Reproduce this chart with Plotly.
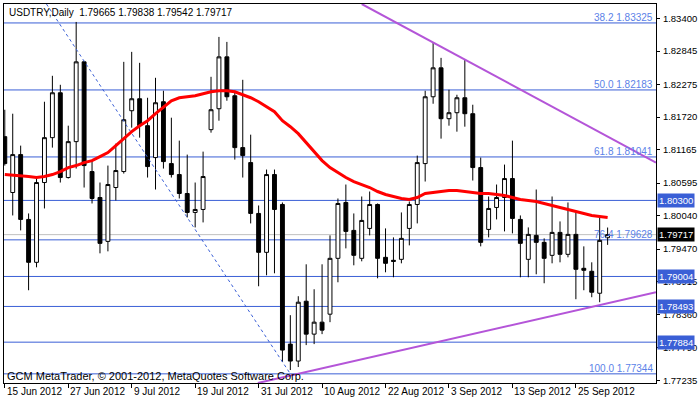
import plotly.graph_objects as go

# ---------------- data ----------------
bar_index = list(range(77))

opens = [1.81387, 1.80435, 1.81081, 1.79976, 1.79245, 1.80605, 1.81370, 1.82135, 1.80690, 1.81302,
         1.82662, 1.80792, 1.80350, 1.79602, 1.80520, 1.80792, 1.81829, 1.82033, 1.81574, 1.81030,
         1.81982, 1.80928, 1.80741, 1.80418, 1.80095, 1.80146, 1.81506, 1.81863, 1.82747, 1.82084,
         1.81200, 1.80945, 1.80078, 1.79415, 1.80741, 1.80231, 1.77851, 1.77562, 1.78582, 1.78021,
         1.78225, 1.78361, 1.79313, 1.80265, 1.79789, 1.79313, 1.79823, 1.80231, 1.79330, 1.79279,
         1.79296, 1.79823, 1.80231, 1.80928, 1.82067, 1.82560, 1.81693, 1.81795, 1.82050, 1.81778,
         1.80860, 1.79806, 1.80180, 1.80350, 1.80673, 1.79976, 1.79296, 1.79704, 1.79585, 1.79364,
         1.79755, 1.79381, 1.79721, 1.79143, 1.79092, 1.78718, 1.79665]
highs = [1.81846, 1.81778, 1.81234, 1.80078, 1.80690, 1.81982, 1.82424, 1.82271, 1.81574, 1.83342,
         1.82679, 1.80979, 1.80605, 1.80894, 1.81268, 1.82662, 1.82832, 1.82645, 1.82050, 1.82390,
         1.82169, 1.81710, 1.81319, 1.81081, 1.80605, 1.81132, 1.82407, 1.83087, 1.83002, 1.82169,
         1.82356, 1.81421, 1.80214, 1.80826, 1.80826, 1.80265, 1.78344, 1.78667, 1.79211, 1.78786,
         1.79211, 1.79704, 1.80333, 1.80571, 1.80078, 1.80367, 1.80452, 1.80248, 1.79823, 1.79670,
         1.80095, 1.80282, 1.81064, 1.82169, 1.82985, 1.82730, 1.82186, 1.82101, 1.82696, 1.81931,
         1.81030, 1.80367, 1.80571, 1.80911, 1.81319, 1.80044, 1.79840, 1.80486, 1.79653, 1.80367,
         1.79942, 1.80265, 1.80095, 1.79517, 1.79245, 1.80027, 1.79838]
lows = [1.80894, 1.80044, 1.79789, 1.78769, 1.79160, 1.80163, 1.81200, 1.80605, 1.80673, 1.80843,
        1.80520, 1.80248, 1.79398, 1.79432, 1.80299, 1.80758, 1.81540, 1.81370, 1.80690, 1.80486,
        1.80843, 1.80690, 1.80333, 1.80010, 1.79840, 1.79925, 1.81455, 1.81659, 1.81999, 1.80996,
        1.80690, 1.79908, 1.78837, 1.79024, 1.79058, 1.77545, 1.77409, 1.77460, 1.77834, 1.77851,
        1.78021, 1.78225, 1.78905, 1.79483, 1.79194, 1.79262, 1.79704, 1.78973, 1.79075, 1.78990,
        1.79228, 1.79534, 1.79908, 1.80622, 1.81948, 1.81353, 1.81574, 1.81472, 1.81557, 1.80639,
        1.79517, 1.79670, 1.79976, 1.79772, 1.79738, 1.78990, 1.78990, 1.79041, 1.78888, 1.79228,
        1.79245, 1.79330, 1.78616, 1.78769, 1.78650, 1.78565, 1.79542]
closes = [1.80928, 1.81081, 1.79976, 1.79245, 1.80605, 1.81370, 1.82135, 1.80690, 1.81302, 1.82662,
          1.80894, 1.80333, 1.79568, 1.80571, 1.80809, 1.81676, 1.82033, 1.81574, 1.80877, 1.81965,
          1.80962, 1.80741, 1.80418, 1.80095, 1.80146, 1.80707, 1.81846, 1.82747, 1.82067, 1.81200,
          1.81064, 1.80078, 1.79415, 1.80741, 1.80146, 1.77749, 1.77562, 1.78565, 1.78021, 1.78225,
          1.78089, 1.79313, 1.80248, 1.79772, 1.79364, 1.79959, 1.80231, 1.79313, 1.79228, 1.79262,
          1.79653, 1.80231, 1.80945, 1.82067, 1.82560, 1.81693, 1.81795, 1.82050, 1.81778, 1.80860,
          1.79585, 1.80163, 1.80350, 1.80673, 1.79993, 1.79568, 1.79721, 1.79585, 1.79313, 1.79755,
          1.79381, 1.79721, 1.79126, 1.79109, 1.78735, 1.79619, 1.79717]

moving_avg = [1.80741, 1.80733, 1.80724, 1.80707, 1.80690, 1.80707, 1.80741, 1.80792, 1.80860, 1.80894,
              1.80945, 1.80979, 1.81047, 1.81115, 1.81234, 1.81353, 1.81472, 1.81574, 1.81659, 1.81778,
              1.81897, 1.81999, 1.82050, 1.82067, 1.82084, 1.82118, 1.82152, 1.82169, 1.82169, 1.82152,
              1.82101, 1.82050, 1.81982, 1.81897, 1.81812, 1.81659, 1.81557, 1.81438, 1.81285, 1.81149,
              1.80979, 1.80860, 1.80775, 1.80690, 1.80622, 1.80571, 1.80520, 1.80452, 1.80401, 1.80367,
              1.80333, 1.80316, 1.80350, 1.80418, 1.80435, 1.80452, 1.80469, 1.80469, 1.80452, 1.80435,
              1.80418, 1.80418, 1.80401, 1.80384, 1.80350, 1.80316, 1.80299, 1.80282, 1.80248, 1.80214,
              1.80180, 1.80146, 1.80112, 1.80078, 1.80044, 1.80027, 1.80010]

fib_levels = [1.83325, 1.82183, 1.81041, 1.79628, 1.77344]
fib_labels = ["38.2 1.83325", "50.0 1.82183", "61.8 1.81041", "76.4 1.79628", "100.0 1.77344"]
sr_levels = [1.80300, 1.79004, 1.78493, 1.77884]
last_price = 1.79717

upper_trend_x = [45.0, 82.1]
upper_trend_y = [1.83648, 1.80945]
lower_trend_x = [31.9, 82.1]
lower_trend_y = [1.77188, 1.78735]
fib_diag_x = [5.25, 36.0]
fib_diag_y = [1.83648, 1.77344]

date_ticks = [0, 8, 16, 24, 32, 40, 48, 56, 64, 72]
date_labels = ["15 Jun 2012", "27 Jun 2012", "9 Jul 2012", "19 Jul 2012", "31 Jul 2012",
               "10 Aug 2012", "22 Aug 2012", "3 Sep 2012", "13 Sep 2012", "25 Sep 2012"]
price_ticks = [1.83400, 1.82845, 1.82275, 1.81720, 1.81165, 1.80595, 1.80040, 1.79470,
               1.78915, 1.78360, 1.77790, 1.77235]

FONT = "Liberation Sans"
LEVEL_BLUE = "#3a5fd6"
AX_SIZE = 9.5

fig = go.Figure()

# horizontal levels
for lv in fib_levels + sr_levels:
    fig.add_hline(y=lv, line=dict(color=LEVEL_BLUE, width=1), layer="below")
fig.add_hline(y=last_price, line=dict(color="#c0c0c0", width=1), layer="below")

fig.add_trace(go.Scatter(x=fib_diag_x, y=fib_diag_y, mode="lines",
                         line=dict(color=LEVEL_BLUE, width=1, dash="dot"), hoverinfo="skip"))

fig.add_trace(go.Candlestick(
    x=bar_index, open=opens, high=highs, low=lows, close=closes,
    increasing=dict(fillcolor="white", line=dict(color="black", width=1)),
    decreasing=dict(fillcolor="black", line=dict(color="black", width=1)),
    whiskerwidth=0,
))

fig.add_trace(go.Scatter(x=bar_index, y=moving_avg, mode="lines",
                         line=dict(color="#ff0000", width=3), hoverinfo="skip"))

for tx, ty in [(upper_trend_x, upper_trend_y), (lower_trend_x, lower_trend_y)]:
    fig.add_trace(go.Scatter(x=tx, y=ty, mode="lines",
                             line=dict(color="#b455d8", width=2), hoverinfo="skip"))

# fib labels
for lv, txt in zip(fib_levels, fib_labels):
    fig.add_annotation(x=1, xref="paper", y=lv, yref="y", text=txt, showarrow=False,
                       xanchor="right", yanchor="bottom", xshift=-1, yshift=-2,
                       font=dict(family=FONT, size=10, color="#5b82e8"))

# price boxes on axis
for lv in sr_levels:
    fig.add_annotation(x=1, xref="paper", y=lv, yref="y", text="%.5f" % lv, showarrow=False,
                       xanchor="left", xshift=1, bgcolor=LEVEL_BLUE,
                       font=dict(family=FONT, size=AX_SIZE, color="white"), borderpad=1)
fig.add_annotation(x=1, xref="paper", y=last_price, yref="y", text="%.5f" % last_price,
                   showarrow=False, xanchor="left", xshift=1, bgcolor="black",
                   font=dict(family=FONT, size=AX_SIZE, color="white"), borderpad=1)

# date labels (left-aligned at tick like MetaTrader)
for t, lab in zip(date_ticks, date_labels):
    fig.add_annotation(x=t, xref="x", y=0, yref="paper", text=lab, showarrow=False,
                       xanchor="left", yanchor="top", yshift=-1, xshift=0,
                       font=dict(family=FONT, size=10, color="black"))

fig.add_annotation(x=0, xref="paper", y=1, yref="paper", text="USDTRY,Daily  1.79665 1.79838 1.79542 1.79717",
                   showarrow=False, xanchor="left", yanchor="top", xshift=3, yshift=-1,
                   font=dict(family=FONT, size=10, color="black"))
fig.add_annotation(x=0, xref="paper", y=0, yref="paper",
                   text="GCM MetaTrader, © 2001-2012, MetaQuotes Software Corp.",
                   showarrow=False, xanchor="left", yanchor="bottom", xshift=1, yshift=-1,
                   font=dict(family=FONT, size=11, color="black"))

fig.update_layout(
    width=700, height=402,
    margin=dict(l=3, r=40, t=3, b=19),
    paper_bgcolor="white", plot_bgcolor="white",
    showlegend=False,
    font=dict(family=FONT, size=10, color="black"),
)
fig.update_xaxes(range=[-0.1, 82.1], tickvals=date_ticks, ticktext=[""] * len(date_ticks),
                 ticks="outside", ticklen=4, tickcolor="black", showgrid=False, zeroline=False,
                 showline=True, linecolor="black", mirror=True, rangeslider_visible=False)
fig.update_yaxes(range=[1.77188, 1.83648], side="right", tickvals=price_ticks,
                 ticktext=["%.5f" % p for p in price_ticks], ticks="outside", ticklen=3,
                 tickcolor="black", showgrid=False, zeroline=False, ticklabelstandoff=1,
                 showline=True, linecolor="black", mirror=True, tickfont=dict(size=AX_SIZE))

fig.write_html("out.html", config={"displayModeBar": False},
               post_script="document.body.style.margin='0';")
